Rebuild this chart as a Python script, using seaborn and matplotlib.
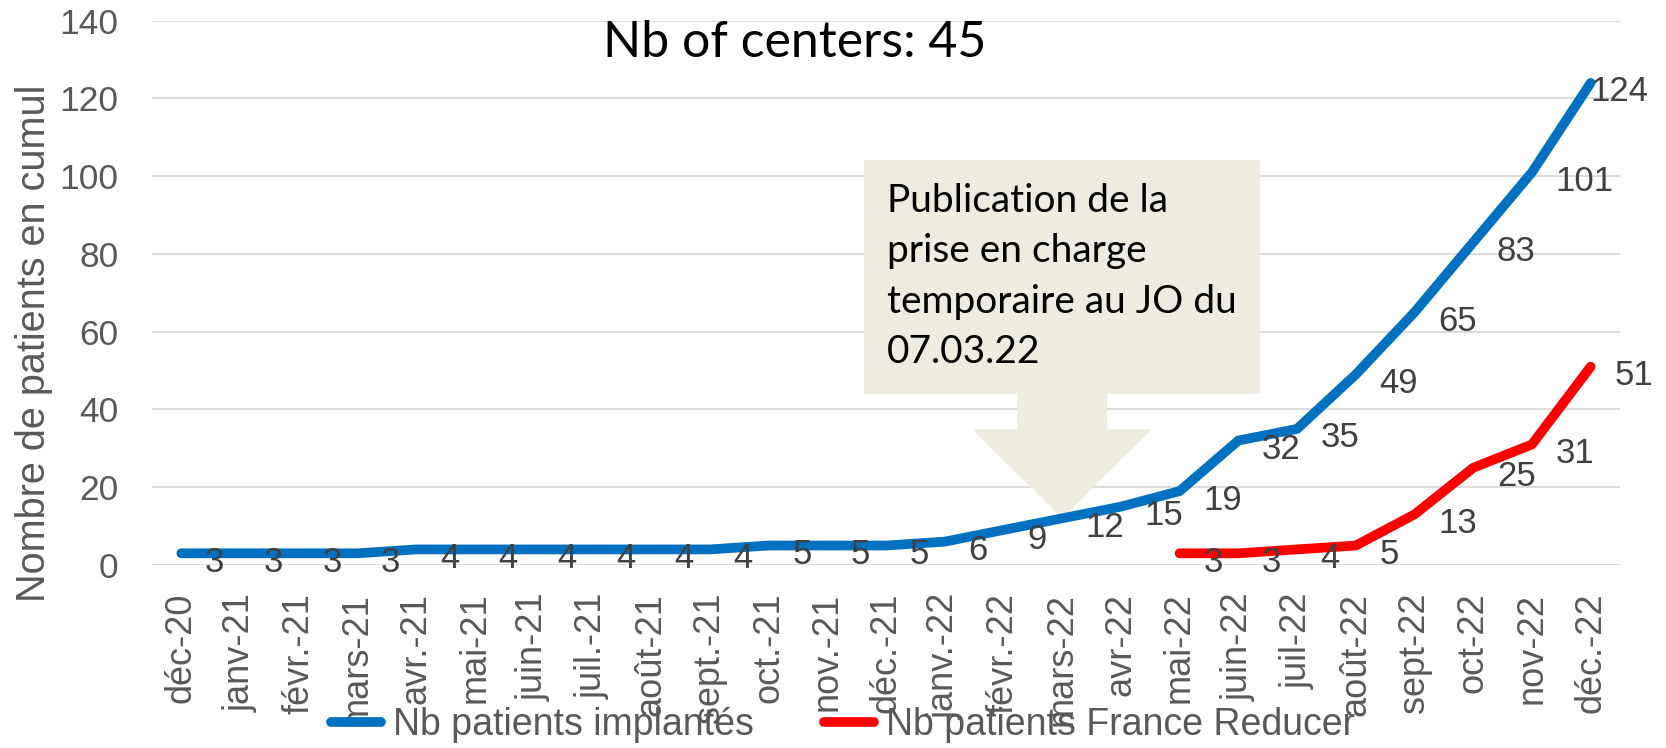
import numpy as np
import pandas as pd
import seaborn as sns
import matplotlib.pyplot as plt
from matplotlib.lines import Line2D
from matplotlib.patches import ArrowStyle

# mois (axe des x)
months = ['déc-20', 'janv-21', 'févr.-21', 'mars-21', 'avr.-21', 'mai-21', 'juin-21',
          'juil.-21', 'août-21', 'sept.-21', 'oct.-21', 'nov.-21', 'déc.-21', 'janv.-22',
          'févr.-22', 'mars-22', 'avr-22', 'mai-22', 'juin-22', 'juil-22', 'août-22',
          'sept-22', 'oct-22', 'nov-22', 'déc.-22']
# patients implantés en cumul
implantes = [3, 3, 3, 3, 4, 4, 4, 4, 4, 4, 5, 5, 5, 6, 9, 12, 15, 19, 32, 35, 49, 65, 83, 101, 124]
# France Reducer, à partir de mai-22
fr_start = 'mai-22'
france_reducer = [3, 3, 4, 5, 13, 25, 31, 51]

title = 'Nb of centers: 45'
callout = 'Publication de la\nprise en charge\ntemporaire au JO du\n07.03.22'
callout_month = 'mars-22'

BLUE = '#0070C0'
RED = '#FF0000'
GREY = '#595959'

sns.set_theme(style='white')
plt.rcParams['font.family'] = ['Liberation Sans', 'DejaVu Sans']

fig, ax = plt.subplots(figsize=(16.66, 7.48), dpi=100)
fig.subplots_adjust(left=0.0912, right=0.9724, top=0.9723, bottom=0.2447)

df_imp = pd.DataFrame({'pos': np.arange(len(months)), 'n': implantes})
i0 = months.index(fr_start)
df_fr = pd.DataFrame({'pos': np.arange(i0, i0 + len(france_reducer)), 'n': france_reducer})

sns.lineplot(data=df_imp, x='pos', y='n', color=BLUE, lw=7, ax=ax,
             solid_capstyle='round', solid_joinstyle='round', zorder=3)
sns.lineplot(data=df_fr, x='pos', y='n', color=RED, lw=7, ax=ax,
             solid_capstyle='round', solid_joinstyle='round', zorder=3)

# étiquettes de données à droite des points
for df in (df_imp, df_fr):
    last = df['pos'].iloc[-1]
    for x, v in zip(df['pos'], df['n']):
        # le dernier label bleu est ramené à l'intérieur du graphique
        dx = 0 if (df is df_imp and x == last) else 17
        ax.annotate(str(v), (x, v), xytext=(dx, -4), textcoords='offset points',
                    ha='left', va='center_baseline', fontsize=25, color='#404040', zorder=4)

ax.set_xlim(-0.5, len(months) - 0.5)
ax.set_ylim(0, 140)
ax.set_yticks(range(0, 141, 20))
ax.set_xticks(range(len(months)))
ax.set_xticklabels(months, rotation=90)
ax.tick_params(axis='x', length=0, pad=20, labelsize=26, labelcolor=GREY)
ax.tick_params(axis='y', length=0, pad=24, labelsize=25.5, labelcolor=GREY)
ax.grid(axis='y', color='#D9D9D9', lw=1.3)
ax.set_axisbelow(True)
sns.despine(ax=ax, left=True, bottom=True)
ax.set_xlabel('')
ax.set_ylabel('Nombre de patients en cumul', fontsize=28.5, color=GREY)
ax.yaxis.set_label_coords(-0.0674, 0.408)

# encadré + flèche
ci = months.index(callout_month)
ax.annotate(callout, (ci, implantes[ci]), xytext=(0, 174), textcoords='offset points',
            ha='center', va='center', ma='left', fontsize=28, family=['Lato', 'DejaVu Sans'],
            color='black', linespacing=1.5, zorder=2,
            bbox=dict(boxstyle='square,pad=0.6', fc='#EEECE1', ec='none'),
            arrowprops=dict(arrowstyle=ArrowStyle.Simple(head_length=0.89, head_width=1.79, tail_width=0.9),
                            mutation_scale=72, fc='#EEECE1', ec='none', shrinkA=0, shrinkB=0))

fig.text(0.477, 0.924, title, ha='center', va='baseline', fontsize=36,
         family=['Lato', 'DejaVu Sans'], color='black')

handles = [Line2D([], [], color=BLUE, lw=7, solid_capstyle='round'),
           Line2D([], [], color=RED, lw=7, solid_capstyle='round')]
fig.legend(handles, ['Nb patients implantés', 'Nb patients France Reducer'],
           loc='center', bbox_to_anchor=(0.506, 0.031), ncol=2, frameon=False,
           fontsize=27, labelcolor=GREY, handlelength=1.34, handletextpad=0.32,
           columnspacing=1.85)

fig.savefig('out.png', dpi=100)
